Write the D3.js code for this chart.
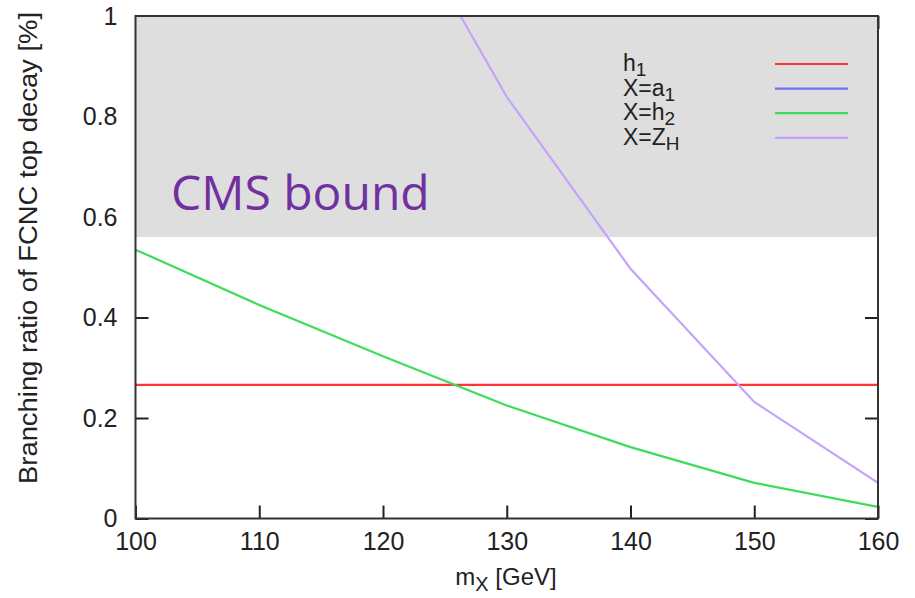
<!DOCTYPE html>
<html>
<head>
<meta charset="utf-8">
<script src="https://cdn.jsdelivr.net/npm/d3@7"></script>
<style>
  body { margin: 0; background: #fff; }
  text { font-family: "Liberation Sans", Arial, sans-serif; fill: #222; }
</style>
</head>
<body>
<svg id="chart" width="915" height="598"></svg>
<script>
// values
const massX = [100, 110, 120, 130, 140, 150, 160];
const brH1 = [0.266, 0.266, 0.266, 0.266, 0.266, 0.266, 0.266];
const brA1 = []; // only in the legend, nothing drawn in range
const brH2 = [0.535, 0.425, 0.323, 0.225, 0.142, 0.071, 0.023];
const massZH = [120, 130, 140, 150, 160];
const brZH = [1.27, 0.839, 0.497, 0.232, 0.071];
const cmsBound = 0.56;

const xTicks = [100, 110, 120, 130, 140, 150, 160];
const yTicks = [0, 0.2, 0.4, 0.6, 0.8, 1];

const series = [
    { name: "h", sub: "1", x: massX, y: brH1, color: "#ff3333" },
    { name: "X=a", sub: "1", x: [], y: brA1, color: "#7272f5" },
    { name: "X=h", sub: "2", x: massX, y: brH2, color: "#3ddc5a" },
    { name: "X=Z", sub: "H", x: massZH, y: brZH, color: "#c7a2fb" }
];

const margin = { left: 135.5, right: 878, top: 16, bottom: 518.5 };
const svg = d3.select("#chart");

const x = d3.scaleLinear().domain([100, 160]).range([margin.left, margin.right]);
const y = d3.scaleLinear().domain([0, 1]).range([margin.bottom, margin.top]);

// ticks first, the grey band covers the upper ones
const tickLen = 13;
const axisBottom = svg.append("g").attr("transform", `translate(0,${margin.bottom})`)
    .call(d3.axisBottom(x).tickValues(xTicks).tickSize(-tickLen).tickPadding(14).tickFormat(d3.format("d")));
const axisTop = svg.append("g").attr("transform", `translate(0,${margin.top})`)
    .call(d3.axisTop(x).tickValues(xTicks).tickSize(-tickLen).tickFormat(""));
const axisLeft = svg.append("g").attr("transform", `translate(${margin.left},0)`)
    .call(d3.axisLeft(y).tickValues(yTicks).tickSize(-tickLen).tickPadding(18)
        .tickFormat(d => d === 0 || d === 1 ? d3.format("d")(d) : d3.format(".1f")(d)));
const axisRight = svg.append("g").attr("transform", `translate(${margin.right},0)`)
    .call(d3.axisRight(y).tickValues(yTicks).tickSize(-tickLen).tickFormat(""));

[axisBottom, axisTop, axisLeft, axisRight].forEach(g => {
    g.select(".domain").remove();
    g.selectAll(".tick line").attr("stroke", "#222").attr("stroke-width", 2);
    g.selectAll(".tick text").attr("font-size", 25).attr("fill", "#222")
        .style("font-family", "'Liberation Sans', Arial, sans-serif");
});

// CMS excluded region
svg.append("rect")
    .attr("x", margin.left).attr("y", y(1))
    .attr("width", x(160) - x(100)).attr("height", y(cmsBound) - y(1))
    .attr("fill", "#dedede");

svg.append("text")
    .attr("x", 171).attr("y", 210)
    .style("font-family", "'Open Sans', 'Noto Sans', sans-serif")
    .style("fill", "#7030a0")
    .attr("font-size", 48)
    .text("CMS bound");

// curves
svg.append("clipPath").attr("id", "plotClip").append("rect")
    .attr("x", margin.left).attr("y", margin.top)
    .attr("width", margin.right - margin.left).attr("height", margin.bottom - margin.top);

const line = d3.line().x(d => x(d[0])).y(d => y(d[1]));
const curves = svg.append("g").attr("clip-path", "url(#plotClip)");
series.forEach(s => {
    if (!s.x.length) return;
    curves.append("path")
        .datum(d3.zip(s.x, s.y))
        .attr("fill", "none")
        .attr("stroke", s.color)
        .attr("stroke-width", 2.2)
        .attr("d", line);
});

// frame
svg.append("rect")
    .attr("x", margin.left).attr("y", margin.top)
    .attr("width", margin.right - margin.left).attr("height", margin.bottom - margin.top)
    .attr("fill", "none").attr("stroke", "#333").attr("stroke-width", 2);

// legend
const legend = svg.append("g");
series.forEach((s, i) => {
    const base = 71 + i * 24.6;
    const t = legend.append("text").attr("x", 623).attr("y", base).attr("font-size", 23);
    t.append("tspan").text(s.name);
    t.append("tspan").attr("dy", 5).attr("font-size", 19).text(s.sub);
    legend.append("line")
        .attr("x1", 775).attr("x2", 848)
        .attr("y1", base - 7).attr("y2", base - 7)
        .attr("stroke", s.color).attr("stroke-width", 2.2);
});

// axis titles
const xt = svg.append("text").attr("x", 506).attr("y", 585).attr("text-anchor", "middle").attr("font-size", 24);
xt.append("tspan").text("m");
xt.append("tspan").attr("dy", 6).attr("font-size", 20).text("X");
xt.append("tspan").attr("dy", -6).text(" [GeV]");

svg.append("text")
    .attr("transform", "translate(37,248) rotate(-90)")
    .attr("text-anchor", "middle")
    .attr("font-size", 25)
    .attr("textLength", 472)
    .attr("lengthAdjust", "spacingAndGlyphs")
    .text("Branching ratio of FCNC top decay [%]");
</script>
</body>
</html>
